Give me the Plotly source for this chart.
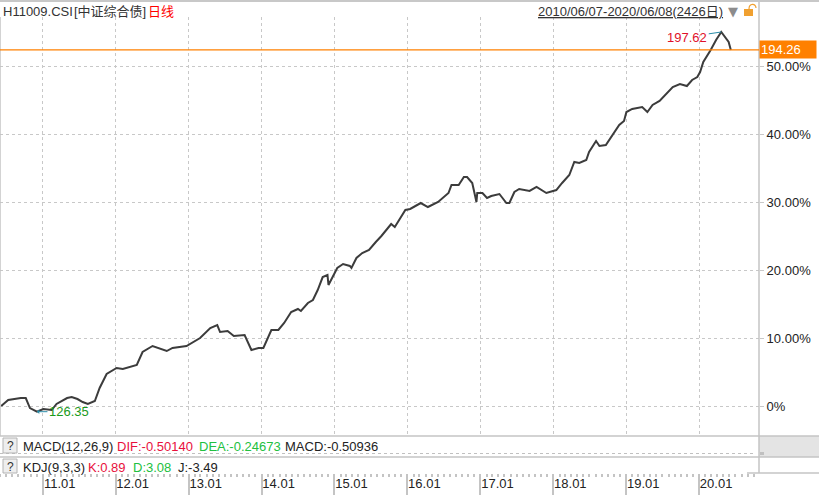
import plotly.graph_objects as go

# H11009.CSI daily close (approximate)
dates = ["2010-06-07", "2010-07-12", "2010-09-13", "2010-10-08", "2010-10-29", "2010-12-03",
         "2011-01-04", "2011-02-15", "2011-03-11", "2011-05-03", "2011-05-26", "2011-06-24",
         "2011-07-20", "2011-08-15", "2011-09-19", "2011-10-13", "2011-11-17", "2011-12-02",
         "2012-01-06", "2012-02-06", "2012-04-16", "2012-05-15", "2012-07-04", "2012-09-13",
         "2012-10-12", "2012-12-21", "2013-02-27", "2013-04-19", "2013-05-24", "2013-06-07",
         "2013-07-15", "2013-08-15", "2013-10-08", "2013-11-11", "2013-12-17", "2014-01-10",
         "2014-02-19", "2014-03-26", "2014-04-24", "2014-05-29", "2014-07-02", "2014-07-17",
         "2014-08-21", "2014-09-15", "2014-10-09", "2014-11-03", "2014-11-27", "2014-12-02",
         "2015-01-15", "2015-02-13", "2015-03-19", "2015-03-27", "2015-04-21", "2015-05-20",
         "2015-06-23", "2015-07-27", "2015-08-24", "2015-10-12", "2015-10-30", "2015-11-27",
         "2015-12-22", "2016-01-15", "2016-03-08", "2016-04-13", "2016-06-03", "2016-07-25",
         "2016-08-09", "2016-09-14", "2016-10-10", "2016-10-26", "2016-11-21", "2016-12-12",
         "2016-12-16", "2017-01-11", "2017-02-03", "2017-02-24", "2017-04-06", "2017-05-11",
         "2017-05-26", "2017-06-20", "2017-07-14", "2017-09-04", "2017-10-09", "2017-11-27",
         "2018-01-16", "2018-02-14", "2018-03-22", "2018-04-16", "2018-05-11", "2018-06-15",
         "2018-06-29", "2018-08-03", "2018-08-20", "2018-09-21", "2018-10-23", "2018-11-27",
         "2018-12-21", "2019-01-02", "2019-01-31", "2019-03-22", "2019-04-17", "2019-05-13",
         "2019-06-17", "2019-07-23", "2019-08-22", "2019-09-27", "2019-11-01", "2019-11-27",
         "2019-12-23", "2020-01-06", "2020-01-22", "2020-02-28", "2020-03-26", "2020-04-21",
         "2020-05-07", "2020-05-28", "2020-06-08"]
close = [127.42, 128.55, 128.92, 128.92, 127.04, 126.35,
         126.86, 126.67, 127.80, 128.92, 129.11, 128.73,
         128.17, 127.80, 128.36, 130.80, 133.43, 133.80,
         134.55, 134.36, 135.12, 137.56, 138.68, 137.74,
         138.31, 138.68, 140.18, 142.06, 142.62, 141.31,
         141.50, 140.56, 140.75, 137.93, 138.31, 138.31,
         141.69, 141.69, 143.00, 145.06, 145.63, 145.25,
         146.75, 147.32, 149.19, 151.63, 152.01, 150.13,
         153.32, 154.07, 153.70, 153.32, 155.20, 156.14,
         156.70, 158.20, 159.33, 161.58, 161.02, 162.71,
         164.21, 164.40, 165.52, 164.77, 165.71, 167.40,
         168.90, 168.90, 170.40, 170.40, 169.28, 165.71,
         167.40, 167.40, 166.46, 166.84, 167.21, 165.52,
         165.52, 167.59, 168.15, 167.78, 168.53, 167.40,
         167.96, 169.28, 170.78, 173.22, 173.03, 173.59,
         175.10, 177.16, 176.22, 176.41, 178.29, 180.16,
         180.91, 182.60, 183.17, 183.54, 182.60, 183.92,
         184.67, 186.17, 187.30, 187.86, 187.48, 188.61,
         189.17, 190.11, 191.99, 194.24, 196.12, 197.62,
         196.87, 195.75, 194.26]

pct_ticks = [0, 10, 20, 30, 40, 50]
pct_labels = ["0%", "10.00%", "20.00%", "30.00%", "40.00%", "50.00%"]

macd_items = [("MACD(12,26,9)", "#222222"), ("DIF:-0.50140", "#e8103c"),
              ("DEA:-0.24673", "#22c040"), ("MACD:-0.50936", "#222222")]
kdj_items = [("KDJ(9,3,3)", "#222222"), ("K:0.89", "#e8103c"),
             ("D:3.08", "#22c040"), ("J:-3.49", "#222222")]

FONT = "Liberation Sans, Noto Sans CJK SC, sans-serif"
GRID = "#c8c8c8"
LINEC = "#c4c4c4"


# pixel -> paper helpers (plot area is x 0..759, y 17..473)
def px(x):
    return x / 759.0


def py(y):
    return (473.0 - y) / 456.0


base = close[0]
hi = max(close)
lo = min(close)
hi_date = dates[close.index(hi)]
lo_date = dates[close.index(lo)]
last = close[-1]

fig = go.Figure()
fig.add_trace(go.Scatter(x=dates, y=close, mode="lines",
                         line=dict(color="#3c3c3c", width=2),
                         hoverinfo="skip", showlegend=False))
# dummy trace for the lower (indicator) panel
fig.add_trace(go.Scatter(x=[dates[0]], y=[0.5], xaxis="x2", yaxis="y2",
                         mode="markers", marker=dict(opacity=0), showlegend=False,
                         hoverinfo="skip"))

shapes = []
# top border
shapes.append(dict(type="rect", xref="paper", yref="paper", x0=0, x1=px(819),
                   y0=py(2), y1=py(0), fillcolor="#c8c8c8", line=dict(width=0), layer="above"))
# grey block right of MACD row
shapes.append(dict(type="rect", xref="paper", yref="paper", x0=1, x1=px(819),
                   y0=py(457), y1=py(436), fillcolor="#e4e4e4", line=dict(width=0)))
# panel separators
for yy in [436, 457]:
    shapes.append(dict(type="line", xref="paper", yref="paper", x0=0, x1=px(819),
                       y0=py(yy), y1=py(yy), line=dict(color=LINEC, width=1.5)))
shapes.append(dict(type="line", xref="paper", yref="paper", x0=1, x1=1,
                   y0=py(473), y1=py(2), line=dict(color=LINEC, width=1.5)))
shapes.append(dict(type="line", xref="paper", yref="paper", x0=0, x1=0,
                   y0=py(436), y1=py(17), line=dict(color=LINEC, width=1.5)))
shapes.append(dict(type="line", xref="paper", yref="paper", x0=px(747), x1=px(819),
                   y0=py(473), y1=py(473), line=dict(color=LINEC, width=1.5)))
# MACD zero line
shapes.append(dict(type="line", xref="paper", yref="paper", x0=0, x1=px(756),
                   y0=py(453.5), y1=py(453.5), line=dict(color="#c0c0c0", width=1, dash="dot")))
shapes.append(dict(type="rect", xref="paper", yref="paper", x0=px(760), x1=px(764),
                   y0=py(455), y1=py(452), fillcolor="#c0c0c0", line=dict(width=0)))
# "?" buttons
for y0, y1 in [(438, 453), (459, 473)]:
    shapes.append(dict(type="rect", xref="paper", yref="paper", x0=px(3), x1=px(17),
                       y0=py(y1), y1=py(y0), fillcolor="#eeeeee",
                       line=dict(color="#b4b4b4", width=1)))
# last price line
shapes.append(dict(type="line", xref="paper", yref="y", x0=0, x1=1, y0=last, y1=last,
                   line=dict(color="#ff8000", width=1.3)))
# lock icon
shapes.append(dict(type="rect", xref="paper", yref="paper", x0=px(744), x1=px(753),
                   y0=py(16), y1=py(9), fillcolor="#f0a030", line=dict(width=0)))
shapes.append(dict(type="path", xref="paper", yref="paper",
                   path="M %f %f C %f %f %f %f %f %f" % (px(749), py(9), px(749), py(3),
                                                         px(756), py(3), px(756), py(8)),
                   line=dict(color="#f0a030", width=1.2)))

ann = []
header = [("H11009.CSI", 1, "#333333"), ("[中证综合债]", 72, "#333333"), ("日线", 146, "#ff0000")]
for txt, xx, col in header:
    ann.append(dict(text=txt, x=px(xx), y=py(11), xref="paper", yref="paper",
                    xanchor="left", yanchor="middle", showarrow=False,
                    font=dict(size=13, color=col, family=FONT)))
ann.append(dict(text="<u>%s-%s(2426日)</u>" % (dates[0].replace("-", "/"),
                                                dates[-1].replace("-", "/")),
                x=px(725), y=py(11), xref="paper", yref="paper",
                xanchor="right", yanchor="middle", showarrow=False,
                font=dict(size=13, color="#333333", family=FONT)))
ann.append(dict(text="▼", x=px(733), y=py(11), xref="paper", yref="paper",
                xanchor="center", yanchor="middle", showarrow=False,
                font=dict(size=13, color="#8c8c8c", family="DejaVu Sans")))
# last price tag
ann.append(dict(text="%.2f" % last, x=1, y=last, xref="paper", yref="y",
                xanchor="left", yanchor="middle", showarrow=False, align="left",
                width=54, height=15, borderpad=1, bgcolor="#ff8000",
                font=dict(size=13, color="#ffffff", family=FONT)))
# high / low markers
ann.append(dict(text="%.2f" % hi, x=hi_date, y=hi, xref="x", yref="y",
                ax=-34, ay=5, showarrow=True, arrowhead=0, arrowwidth=1,
                arrowcolor="#2a8ca8", font=dict(size=13, color="#e0102a", family=FONT)))
ann.append(dict(text="%.2f" % lo, x=lo_date, y=lo, xref="x", yref="y",
                ax=32, ay=0, showarrow=True, arrowhead=1, arrowsize=0.8, arrowwidth=1,
                arrowcolor="#2a8ca8", font=dict(size=13, color="#1a9a1a", family=FONT)))
# indicator rows
for yrow, items in [(446, macd_items), (467, kdj_items)]:
    ann.append(dict(text="?", x=px(10), y=py(yrow), xref="paper", yref="paper",
                    xanchor="center", yanchor="middle", showarrow=False,
                    font=dict(size=12, color="#333333", family=FONT)))
    xs = [21, 115, 197, 283] if yrow == 446 else [21, 86, 131, 176]
    for (txt, col), xx in zip(items, xs):
        ann.append(dict(text=txt, x=px(xx), y=py(yrow), xref="paper", yref="paper",
                        xanchor="left", yanchor="middle", showarrow=False,
                        font=dict(size=13, color=col, family=FONT)))

ymin = base + (406 - 436) * 0.1877
ymax = base + (406 - 17) * 0.1877

fig.update_layout(
    width=819, height=495,
    margin=dict(l=0, r=60, t=17, b=22),
    paper_bgcolor="white", plot_bgcolor="white",
    font=dict(family=FONT, size=13, color="#222222"),
    showlegend=False,
    shapes=shapes,
    annotations=ann,
    xaxis=dict(range=["2010-06-01", "2020-10-27"], type="date", anchor="y",
               showticklabels=False, ticks="", showline=False, zeroline=False,
               showgrid=True, gridcolor=GRID, griddash="dot", gridwidth=1,
               dtick="M12", tick0="2011-01-01"),
    yaxis=dict(domain=[py(436), 1], range=[ymin, ymax], side="right", anchor="x",
               tickvals=[base * (1 + p / 100.0) for p in pct_ticks], ticktext=pct_labels,
               ticks="outside", ticklen=4, tickcolor=GRID, showline=False, zeroline=False,
               showgrid=True, gridcolor=GRID, griddash="dot", gridwidth=1,
               tickfont=dict(size=13, color="#222222")),
    xaxis2=dict(matches="x", anchor="y2", type="date", showgrid=False, zeroline=False,
                showline=False, ticks="outside", ticklen=22, tickcolor=LINEC, tickwidth=1.5,
                dtick="M12", tick0="2011-01-01", tickformat="%y.%m",
                ticklabelshift=17, ticklabelstandoff=-24,
                tickfont=dict(size=13, color="#222222"),
                minor=dict(ticks="outside", ticklen=3, tickcolor=LINEC, dtick="M1",
                           showgrid=False)),
    yaxis2=dict(domain=[0, py(436)], range=[0, 1], anchor="x2", visible=False),
)

fig.write_html("out.html", config={"displayModeBar": False},
               post_script="document.body.style.margin='0';")
